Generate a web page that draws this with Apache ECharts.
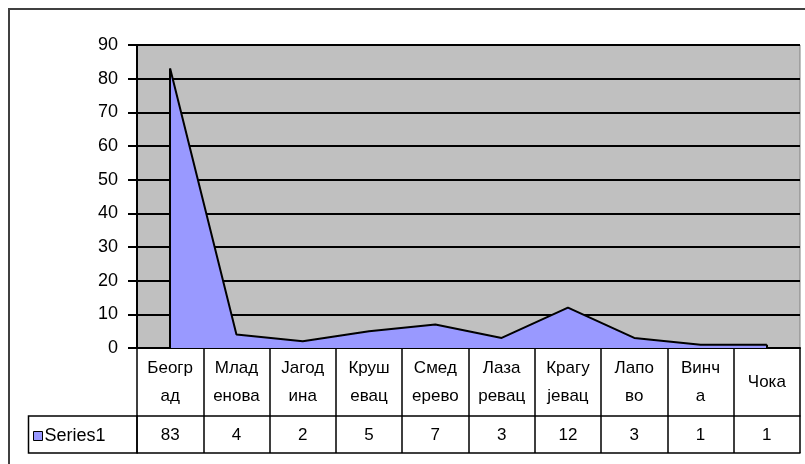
<!DOCTYPE html>
<html>
<head>
<meta charset="utf-8">
<script src="https://cdn.jsdelivr.net/npm/echarts@6/dist/echarts.min.js"></script>
<style>
html,body{margin:0;padding:0;background:#fff;}
#c{width:805px;height:464px;}
</style>
</head>
<body>
<div id="c"></div>
<script>
const categories = ['Београд','Младенова','Јагодина','Крушевац','Смедерево','Лазаревац','Крагујевац','Лапово','Винча','Чока'];
const tickLabels = ['Беогр\nад','Млад\nенова','Јагод\nина','Круш\nевац','Смед\nерево','Лаза\nревац','Крагу\nјевац','Лапо\nво','Винч\nа','Чока'];
const values = [83, 4, 2, 5, 7, 3, 12, 3, 1, 1];
const seriesName = 'Series1';
const yTicks = {min: 0, max: 90, interval: 10};

const FONT = '"Liberation Sans", Arial, sans-serif';
const chart = echarts.init(document.getElementById('c'), null, {renderer: 'canvas'});
const last = values.length - 1;

chart.setOption({
  animation: false,
  backgroundColor: '#fff',
  textStyle: {fontFamily: FONT},
  grid: {
    left: 137, right: 5, top: 45, bottom: 116,
    show: true, backgroundColor: '#C0C0C0', borderColor: '#808080', borderWidth: 1
  },
  legend: {
    data: [{name: seriesName, icon: 'rect'}],
    left: 33, top: 427,
    itemWidth: 9, itemHeight: 9, itemGap: 0,
    padding: 0,
    textStyle: {fontFamily: FONT, fontSize: 18, color: '#000', padding: [0,0,0,-3]},
    itemStyle: {borderColor: '#000', borderWidth: 1}
  },
  xAxis: [
    {
      type: 'category', data: categories, boundaryGap: true,
      axisLine: {show: true, lineStyle: {color: '#000', width: 2}},
      axisTick: {show: true, interval: 0, length: 105, lineStyle: {color: '#000', width: 1.5}},
      axisLabel: {
        interval: 0, fontFamily: FONT, fontSize: 17, color: '#000',
        lineHeight: 28, margin: 34, verticalAlign: 'middle',
        formatter: (v, i) => tickLabels[i]
      },
      splitLine: {show: false}
    },
    {
      type: 'category', data: categories, boundaryGap: true, position: 'bottom', offset: 68,
      axisLine: {show: true, lineStyle: {color: '#000', width: 1.5}},
      axisTick: {show: false},
      axisLabel: {
        interval: 0, fontFamily: FONT, fontSize: 17, color: '#000',
        margin: 19, verticalAlign: 'middle',
        formatter: (v, i) => String(values[i])
      },
      splitLine: {show: false}
    },
    {
      type: 'category', data: categories, boundaryGap: true, position: 'bottom', offset: 105,
      axisLine: {show: true, lineStyle: {color: '#000', width: 1.5}},
      axisTick: {show: false},
      axisLabel: {show: false},
      splitLine: {show: false}
    }
  ],
  yAxis: {
    type: 'value', min: yTicks.min, max: yTicks.max, interval: yTicks.interval,
    axisLine: {show: true, lineStyle: {color: '#000', width: 2}},
    axisTick: {show: true, length: 9, lineStyle: {color: '#000', width: 2}},
    axisLabel: {fontFamily: FONT, fontSize: 18, color: '#000', margin: 19},
    splitLine: {show: true, lineStyle: {color: '#000', width: 2}}
  },
  series: [{
    name: seriesName,
    type: 'line',
    data: values,
    xAxisIndex: 0,
    showSymbol: false,
    symbol: 'none',
    color: '#9999FF',
    lineStyle: {color: '#000', width: 2},
    areaStyle: {color: '#9999FF', opacity: 1},
    itemStyle: {color: '#9999FF'},
    z: 3,
    markLine: {
      silent: true, symbol: 'none', animation: false,
      label: {show: false},
      lineStyle: {color: '#000', width: 2, type: 'solid'},
      data: [
        [{coord: [0, 0]}, {coord: [0, values[0]]}],
        [{coord: [last, 0]}, {coord: [last, values[last]]}]
      ]
    }
  }],
  graphic: [
    {type: 'rect', silent: true, z: 10,
     shape: {x: 9, y: 9, width: 820, height: 480},
     style: {fill: 'none', stroke: '#404040', lineWidth: 2}},
    {type: 'rect', silent: true, z: 10,
     shape: {x: 28.5, y: 416, width: 108.5, height: 37},
     style: {fill: 'none', stroke: '#000', lineWidth: 1.5}}
  ]
});
</script>
</body>
</html>
